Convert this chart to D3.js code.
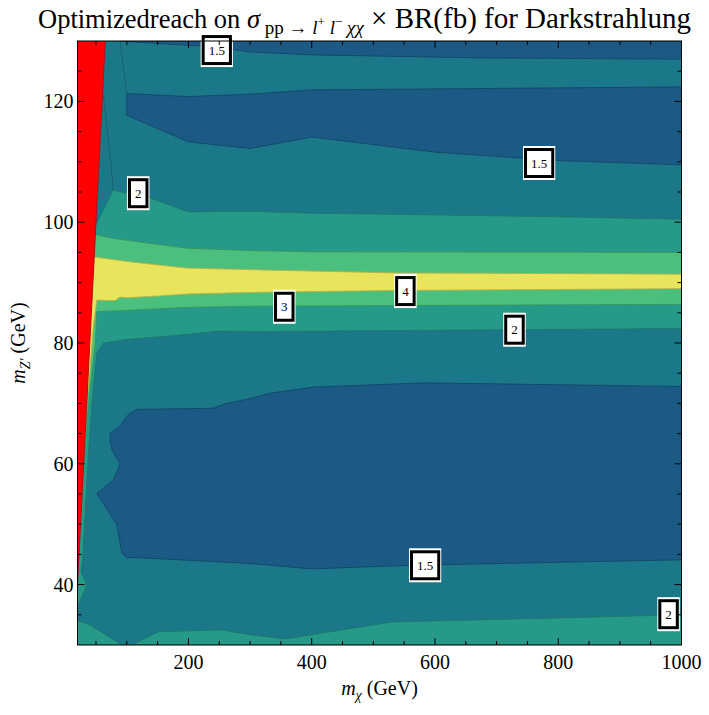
<!DOCTYPE html>
<html>
<head>
<meta charset="utf-8">
<script src="https://cdn.jsdelivr.net/npm/d3@7"></script>
<style>
  body { margin: 0; background: #fff; overflow: hidden; }
  text { font-family: "Liberation Serif", "Times New Roman", serif; }
</style>
</head>
<body>
<svg id="chart" width="709" height="715"></svg>
<script>
// ---------------- data (m_chi, m_Z') ----------------

// contour levels and their fills
let levels = ["<1.5", "1.5-2", "2-3", "3-4", ">4"];
let fills = ["#1a5a85", "#1b7889", "#269a88", "#4bbf7d", "#e8e45c"];

// region above 2 (middle band incl. thin strip along the kinematic edge)
let above2Band = [[1000,100.5],[800,100.9],[400,101.5],[300,101.8],[200,101.7],[138,104],[78,105.3],[50,99.6],[20,99.6],
  [20,36.3],[35,39.9],[26,42],[29,45],[32.5,52],[38,62.3],[44,70.5],[51.4,78.3],[62,80],[100,80.6],[187,81.3],[252,82],[316,81.9],[1000,82.4]];
// region above 2 at the bottom
let above2Bottom = [[20,34.1],[40.6,33.3],[92,30],[108,30],[151.5,32.2],[252,32.5],[300,31.7],[357,31],[530,33.8],[1000,35],[1000,30],[20,30]];
// region above 3
let above3Band = [[1000,95],[400,95.1],[300,95.3],[197.5,95.7],[78.4,97.3],[51.4,97.9],[20,97.9],
  [20,60],[31,62],[40,72],[49,80],[51.4,85.2],[100,85.4],[197.5,85.9],[316,86.1],[1000,86.4]];
// region above 4
let above4Band = [[1000,91.4],[538,91.6],[316,92.1],[197.5,92.4],[100,93.5],[51.4,94.2],[20,94.2],
  [20,70],[37.5,72],[46,83],[51.4,87.1],[81,87],[89,87.6],[100,87.5],[154,87.8],[197.5,88.1],[316,88.4],[538,88.7],[1000,89]];
// regions below 1.5
let below15Top = [[89,130],[150,129.6],[230,129.1],[300,128.2],[400,127.7],[679,127.2],[1000,127],[1000,130]];
let below15Upper = [[100,121.3],[200,120.8],[300,121.2],[400,121.9],[1000,122.4],[1000,109.5],[800,110.2],[600,111.6],[400,114.1],[300,112.2],[200,113.3],[100,117.7]];
let below15Lower = [[73,65],[89,66.3],[103,68.2],[116,69],[241,69.2],[262,70],[300,70.8],[333,71.7],[403,72.7],[582,73.4],[1000,72.8],
  [1000,44.1],[560,43.2],[400,42.6],[300,43.5],[111,44.5],[100,44.4],[92,45.2],[84,49.9],[51.4,55.1],[78.4,57.3],[89,60],[76,62.3],[73,63.9]];
// extra contour lines near the edge
let edgeLineA = [[89,130],[100,121.3]];
let edgeLineB = [[62,121],[74,110],[78,105.3]];
// forbidden region m_chi > m_Z'/2
let forbidden = [[20,40],[65,130],[20,130]];

// contour labels
let labelText = ["1.5", "1.5", "2", "3", "4", "2", "1.5", "2"];
let labelX = [246, 769, 118.5, 355.5, 552, 729, 584, 979];
let labelY = [128.5, 109.8, 104.8, 86, 88.6, 82.2, 43.2, 35.1];

// axis ticks
let xMajor = [200, 400, 600, 800, 1000];
let yMajor = [40, 60, 80, 100, 120];

// ---------------- setup ----------------
let margin = ({ top: 41, right: 27.5, bottom: 70, left: 77.5 });
let width = 709, height = 715;

const svg = d3.select("#chart");

let x = d3.scaleLinear().domain([20, 1000]).range([margin.left, width - margin.right]);
let y = d3.scaleLinear().domain([30, 130]).range([height - margin.bottom, margin.top]);

let line = d3.line().x(d => x(d[0])).y(d => y(d[1]));
let poly = pts => line(pts) + "Z";

svg.append("clipPath").attr("id", "clip")
  .append("rect")
  .attr("x", x(20)).attr("y", y(130))
  .attr("width", x(1000) - x(20)).attr("height", y(30) - y(130));

const plot = svg.append("g").attr("clip-path", "url(#clip)");

// background level 1.5-2
plot.append("rect")
  .attr("x", x(20)).attr("y", y(130))
  .attr("width", x(1000) - x(20)).attr("height", y(30) - y(130))
  .attr("fill", fills[1]);

let layers = [
  { pts: above2Band, c: fills[2] },
  { pts: above2Bottom, c: fills[2] },
  { pts: above3Band, c: fills[3] },
  { pts: above4Band, c: fills[4] },
  { pts: below15Top, c: fills[0] },
  { pts: below15Upper, c: fills[0] },
  { pts: below15Lower, c: fills[0] }
];

plot.selectAll("path.region")
  .data(layers)
  .join("path")
  .attr("class", "region")
  .attr("d", d => poly(d.pts))
  .attr("fill", d => d.c)
  .attr("stroke", d => d3.color(d.c).darker(0.7))
  .attr("stroke-width", 0.9)
  .attr("stroke-linejoin", "round");

plot.selectAll("path.edge")
  .data([edgeLineA, edgeLineB])
  .join("path")
  .attr("class", "edge")
  .attr("d", line)
  .attr("fill", "none")
  .attr("stroke", d3.color(fills[1]).darker(0.7))
  .attr("stroke-width", 0.9);

plot.append("path")
  .attr("d", poly(forbidden))
  .attr("fill", "#ff0000")
  .attr("stroke", "#b01010")
  .attr("stroke-width", 1);

// contour labels
const lab = svg.append("g");
labelText.forEach((t, i) => {
  const g = lab.append("g").attr("transform", `translate(${x(labelX[i])},${y(labelY[i])})`);
  const txt = g.append("text")
    .attr("text-anchor", "middle")
    .attr("dy", "0.35em")
    .attr("font-size", 13)
    .text(t);
  const w = txt.node().getComputedTextLength() + 14;
  const h = 30;
  g.insert("rect", "text")
    .attr("x", -w / 2 - 1).attr("y", -h / 2 - 2)
    .attr("width", w + 2).attr("height", h + 4)
    .attr("fill", "#fff");
  g.insert("rect", "text")
    .attr("x", -w / 2 + 1.5).attr("y", -h / 2 + 1.5)
    .attr("width", w - 3).attr("height", h - 3)
    .attr("fill", "#fff")
    .attr("stroke", "#000")
    .attr("stroke-width", 3);
});

// frame
svg.append("rect")
  .attr("x", x(20)).attr("y", y(130))
  .attr("width", x(1000) - x(20)).attr("height", y(30) - y(130))
  .attr("fill", "none").attr("stroke", "#000").attr("stroke-width", 1);

// ticks (inside, all four sides)
let xMinor = d3.range(50, 1001, 50).filter(v => !xMajor.includes(v));
let yMinor = d3.range(35, 130, 5).filter(v => !yMajor.includes(v));
const ticks = svg.append("g").attr("stroke", "#000").attr("stroke-width", 1);
[[xMajor, 7], [xMinor, 4]].forEach(([vals, len]) => {
  vals.forEach(v => {
    ticks.append("line").attr("x1", x(v)).attr("x2", x(v)).attr("y1", y(30)).attr("y2", y(30) - len);
    ticks.append("line").attr("x1", x(v)).attr("x2", x(v)).attr("y1", y(130)).attr("y2", y(130) + len);
  });
});
[[yMajor, 7], [yMinor, 4]].forEach(([vals, len]) => {
  vals.forEach(v => {
    ticks.append("line").attr("y1", y(v)).attr("y2", y(v)).attr("x1", x(20)).attr("x2", x(20) + len);
    ticks.append("line").attr("y1", y(v)).attr("y2", y(v)).attr("x1", x(1000)).attr("x2", x(1000) - len);
  });
});

// tick labels
svg.append("g").selectAll("text")
  .data(xMajor)
  .join("text")
  .attr("x", d => x(d)).attr("y", y(30) + 24)
  .attr("text-anchor", "middle")
  .attr("font-size", 20)
  .text(d => d);

svg.append("g").selectAll("text")
  .data(yMajor)
  .join("text")
  .attr("x", x(20) - 4).attr("y", d => y(d))
  .attr("dy", "0.35em")
  .attr("text-anchor", "end")
  .attr("font-size", 20)
  .text(d => d);

// axis titles
const xt = svg.append("text")
  .attr("x", (x(20) + x(1000)) / 2).attr("y", 695)
  .attr("text-anchor", "middle").attr("font-size", 20);
xt.append("tspan").attr("font-style", "italic").text("m");
xt.append("tspan").attr("font-style", "italic").attr("font-size", 14).attr("dy", 5).text("χ");
xt.append("tspan").attr("dy", -5).text(" (GeV)");

const yt = svg.append("text")
  .attr("transform", `translate(25,${(y(30) + y(130)) / 2}) rotate(-90)`)
  .attr("text-anchor", "middle").attr("font-size", 20);
yt.append("tspan").attr("font-style", "italic").text("m");
yt.append("tspan").attr("font-style", "italic").attr("font-size", 14).attr("dy", 5).text("Z′");
yt.append("tspan").attr("dy", -5).text(" (GeV)");

// title
const tt = svg.append("text").attr("x", 38).attr("y", 28).attr("font-size", 26.5);
tt.append("tspan").text("Optimizedreach on ");
tt.append("tspan").attr("font-style", "italic").text("σ");
tt.append("tspan").attr("font-size", 19).attr("dy", 6).text(" pp → ");
tt.append("tspan").attr("font-size", 19).attr("font-style", "italic").text("l");
tt.append("tspan").attr("font-size", 13).attr("dy", -8).text("+");
tt.append("tspan").attr("font-size", 19).attr("font-style", "italic").attr("dy", 8).text(" l");
tt.append("tspan").attr("font-size", 13).attr("dy", -8).text("−");
tt.append("tspan").attr("font-size", 19).attr("font-style", "italic").attr("dy", 8).text(" χχ");
tt.append("tspan").attr("dy", -6).attr("font-size", 29).text(" × BR(fb) for Darkstrahlung");
</script>
</body>
</html>
